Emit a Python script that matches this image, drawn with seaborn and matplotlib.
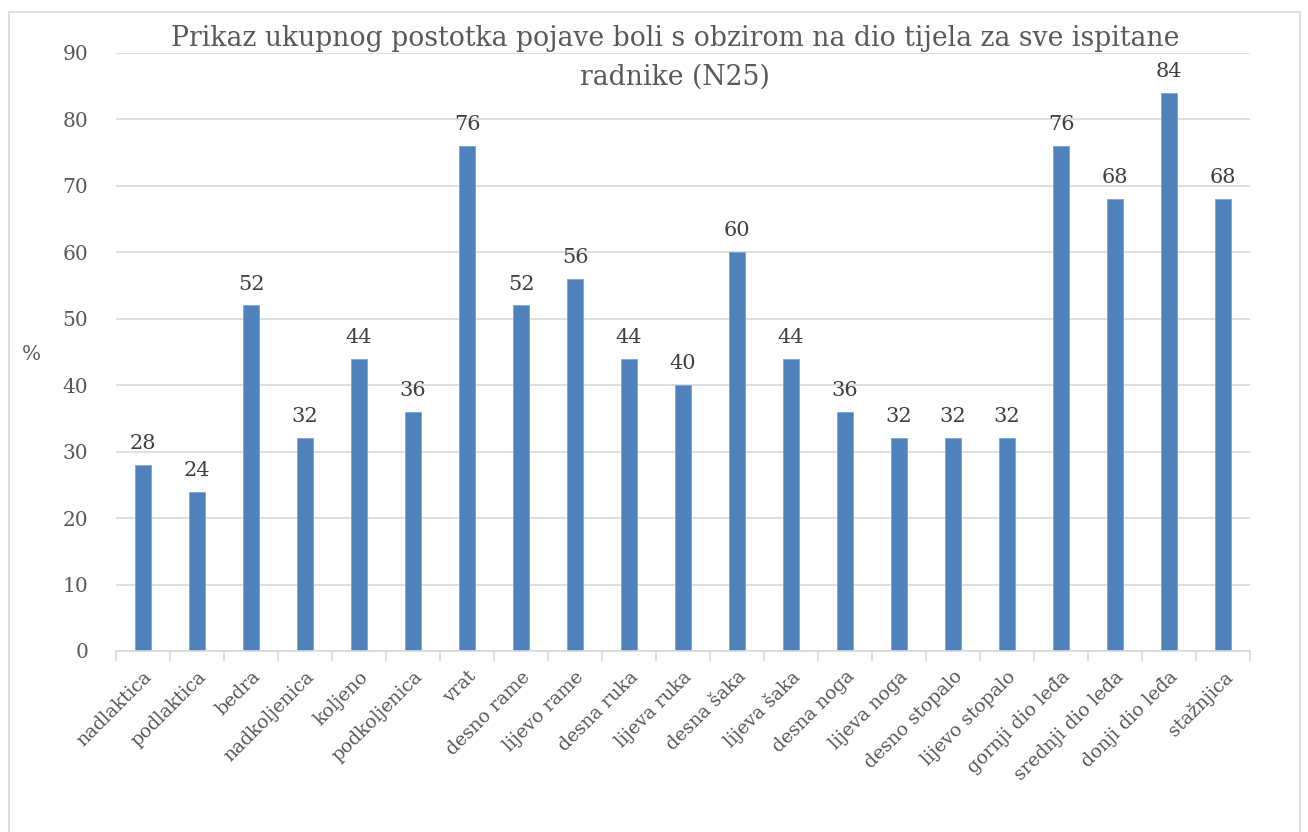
import matplotlib
matplotlib.use("Agg")
import matplotlib.pyplot as plt
import seaborn as sns
import numpy as np
import pandas as pd
from matplotlib.patches import Rectangle

categories = ["nadlaktica", "podlaktica", "bedra", "nadkoljenica", "koljeno", "podkoljenica",
              "vrat", "desno rame", "lijevo rame", "desna ruka", "lijeva ruka", "desna šaka",
              "lijeva šaka", "desna noga", "lijeva noga", "desno stopalo", "lijevo stopalo",
              "gornji dio leđa", "srednji dio leđa", "donji dio leđa", "stažnjica"]
values = [28, 24, 52, 32, 44, 36, 76, 52, 56, 44, 40, 60, 44, 36, 32, 32, 32, 76, 68, 84, 68]
yticks = [0, 10, 20, 30, 40, 50, 60, 70, 80, 90]
title_lines = ["Prikaz ukupnog postotka pojave boli s obzirom na dio tijela za sve ispitane",
               "radnike (N25)"]

sns.set_theme(style="white")
plt.rcParams['font.family'] = ['DejaVu Serif']

df = pd.DataFrame({"cat": categories, "val": values})

fig = plt.figure(figsize=(13.08, 8.32), dpi=100)
ax = fig.add_axes([116/1308, 1-651/832, (1250-116)/1308, (651-53)/832])

sns.barplot(data=df, x="cat", y="val", color="#4F81BD", width=0.31, ax=ax,
            saturation=1, edgecolor="#7FA3D3", linewidth=0.6)

ax.set_ylim(0, 90)
ax.set_xlim(-0.5, len(categories) - 0.5)
ax.set_yticks(yticks)
ax.yaxis.grid(True, color="#D9D9D9", linewidth=1.2)
ax.set_axisbelow(True)
for s in ["left", "right", "top"]:
    ax.spines[s].set_visible(False)
ax.spines["bottom"].set_color("#D9D9D9")
ax.spines["bottom"].set_linewidth(1.2)

ax.tick_params(axis="y", length=0, labelsize=14.5, labelcolor="#595959", pad=20)
ax.set_xticks(range(len(categories)))
ax.set_xticklabels(categories, rotation=45, ha="right", rotation_mode="anchor",
                   fontsize=13.5, color="#595959")
ax.tick_params(axis="x", which="major", length=0, pad=12)
ax.set_xticks(np.arange(-0.5, len(categories), 1.0), minor=True)
ax.tick_params(axis="x", which="minor", length=7, width=1.2, color="#D9D9D9", bottom=True)

ax.set_xlabel("")
ax.set_ylabel("%", rotation=0, fontsize=14.5, color="#595959")
ax.yaxis.set_label_coords(-0.075, 0.48)

for i, v in enumerate(values):
    ax.text(i, v + 1.8, str(v), ha="center", va="bottom", fontsize=15, color="#404040")

fig.text(675/1308, 1-38/832, title_lines[0], ha="center", va="center", fontsize=19.2,
         color="#595959")
fig.text(675/1308, 1-77/832, title_lines[1], ha="center", va="center", fontsize=19.2,
         color="#595959")

fig.patches.append(Rectangle((9/1308, -0.1), (1300-9)/1308, 1.1 - 12/832,
                             transform=fig.transFigure, fill=False,
                             edgecolor="#D9D9D9", linewidth=1.2))

fig.savefig("out.png", dpi=100, facecolor="white")
